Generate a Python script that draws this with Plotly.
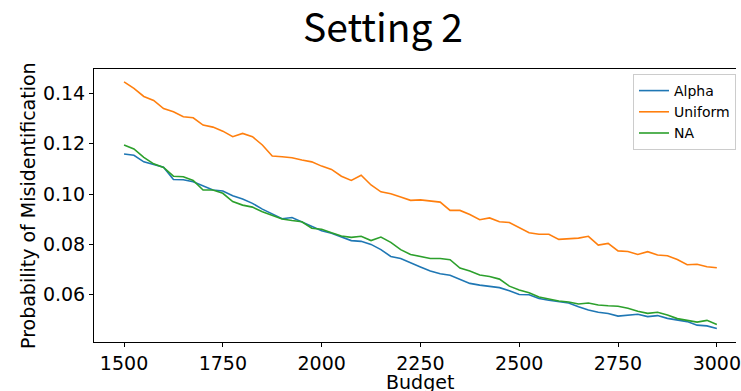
import plotly.graph_objects as go

budget = list(range(1500, 3001, 25))

alpha = [0.1159, 0.1154, 0.1128, 0.1118, 0.1107, 0.1058, 0.1057, 0.1049, 0.1034, 0.1016, 0.1012,
         0.0993, 0.0980, 0.0963, 0.0940, 0.0921, 0.0902, 0.0907, 0.0890, 0.0874, 0.0854,
         0.0844, 0.0829, 0.0815, 0.0812, 0.0800, 0.0779, 0.0752, 0.0744, 0.0726, 0.0710,
         0.0694, 0.0683, 0.0677, 0.0661, 0.0645, 0.0638, 0.0632, 0.0628, 0.0616, 0.0601,
         0.0600, 0.0585, 0.0578, 0.0571, 0.0567, 0.0552, 0.0539, 0.0530, 0.0525, 0.0515,
         0.0519, 0.0522, 0.0513, 0.0517, 0.0506, 0.0498, 0.0493, 0.0479, 0.0476, 0.0466]

uniform = [0.1446, 0.1420, 0.1388, 0.1372, 0.1340, 0.1327, 0.1307, 0.1303, 0.1274, 0.1266, 0.1250,
           0.1228, 0.1241, 0.1228, 0.1195, 0.1151, 0.1148, 0.1144, 0.1135, 0.1128, 0.1111,
           0.1098, 0.1071, 0.1054, 0.1075, 0.1036, 0.1009, 0.1001, 0.0988, 0.0975, 0.0977,
           0.0972, 0.0968, 0.0935, 0.0935, 0.0919, 0.0898, 0.0905, 0.0890, 0.0887, 0.0868,
           0.0846, 0.0840, 0.0840, 0.0820, 0.0823, 0.0825, 0.0832, 0.0797, 0.0804, 0.0774,
           0.0772, 0.0760, 0.0771, 0.0758, 0.0755, 0.0740, 0.0719, 0.0721, 0.0711, 0.0707]

na = [0.1195, 0.1179, 0.1146, 0.1120, 0.1106, 0.1071, 0.1069, 0.1054, 0.1016, 0.1016, 0.1003,
      0.0970, 0.0956, 0.0948, 0.0930, 0.0917, 0.0901, 0.0895, 0.0890, 0.0864, 0.0860,
      0.0846, 0.0833, 0.0828, 0.0832, 0.0815, 0.0829, 0.0808, 0.0779, 0.0760, 0.0751,
      0.0744, 0.0744, 0.0739, 0.0706, 0.0694, 0.0678, 0.0672, 0.0662, 0.0634, 0.0619,
      0.0608, 0.0591, 0.0583, 0.0575, 0.0571, 0.0563, 0.0567, 0.0559, 0.0556, 0.0554,
      0.0546, 0.0534, 0.0526, 0.0530, 0.0519, 0.0505, 0.0498, 0.0491, 0.0498, 0.0482]

series_names = ["Alpha", "Uniform", "NA"]
series_colors = ["#1f77b4", "#ff7f0e", "#2ca02c"]
x_ticks = [1500, 1750, 2000, 2250, 2500, 2750, 3000]
y_ticks = [0.06, 0.08, 0.10, 0.12, 0.14]
y_tick_labels = ["0.06", "0.08", "0.10", "0.12", "0.14"]

font = "DejaVu Sans"

fig = go.Figure()
for name, vals, col in zip(series_names, [alpha, uniform, na], series_colors):
    fig.add_trace(go.Scatter(x=budget, y=vals, mode="lines", name=name,
                             line=dict(color=col, width=1.6)))

fig.update_layout(
    width=741, height=391,
    margin=dict(l=94, r=0, t=69, b=49),
    paper_bgcolor="white", plot_bgcolor="white",
    font=dict(family=font, size=19, color="black"),
    showlegend=True,
    legend=dict(x=1, xanchor="right", y=0.9817, yanchor="top",
                bordercolor="#cccccc", borderwidth=1,
                bgcolor="rgba(255,255,255,0.8)",
                font=dict(family=font, size=14, color="black"),
                tracegroupgap=0),
    xaxis=dict(range=[1424, 3048.5], tickvals=x_ticks,
               showgrid=False, zeroline=False,
               showline=True, linecolor="black", linewidth=1, mirror=True,
               ticks="outside", ticklen=4, tickcolor="black",
               ticklabeloverflow="allow",
               tickfont=dict(family=font, size=19, color="black")),
    yaxis=dict(range=[0.0412, 0.1497], tickvals=y_ticks, ticktext=y_tick_labels,
               showgrid=False, zeroline=False,
               showline=True, linecolor="black", linewidth=1, mirror=False,
               ticks="outside", ticklen=4, tickcolor="black",
               tickfont=dict(family=font, size=19, color="black")),
    annotations=[
        dict(text="Setting 2", x=0.4505, y=1.1612, xref="paper", yref="paper",
             xanchor="center", yanchor="middle", showarrow=False,
             font=dict(family="Noto Sans CJK JP", size=39, color="black")),
        dict(text="Probability of Misidentification", x=-0.1036, y=0.5,
             xref="paper", yref="paper", xanchor="center", yanchor="middle",
             textangle=-90, showarrow=False,
             font=dict(family=font, size=19, color="black")),
        dict(text="Budget", x=0.5077, y=-0.1465, xref="paper", yref="paper",
             xanchor="center", yanchor="middle", showarrow=False,
             font=dict(family=font, size=19, color="black")),
    ],
)

fig.write_html("out.html",
               config={"displayModeBar": False},
               post_script="document.body.style.margin='0';document.body.style.overflow='hidden';")
